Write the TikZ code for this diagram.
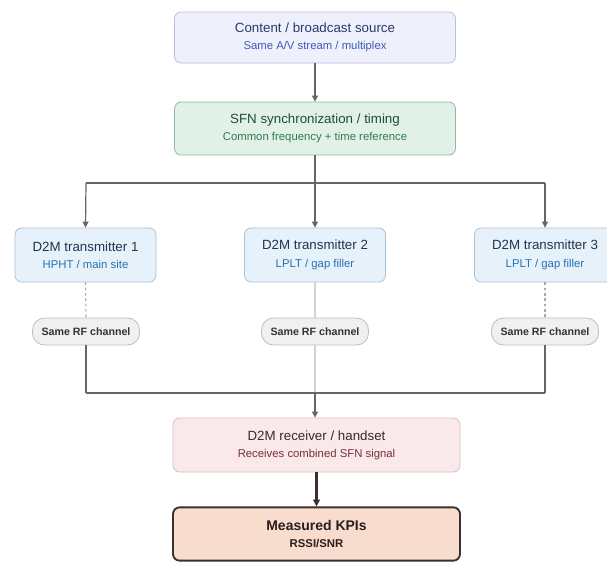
\documentclass[tikz,border=0pt]{standalone}
\usepackage{fontspec}
\setmainfont{Liberation Sans}
\usetikzlibrary{arrows.meta}
\definecolor{cFill}{HTML}{EEF0FB}\definecolor{cDraw}{HTML}{B8BFDD}
\definecolor{cTit}{HTML}{2B3A6B}\definecolor{cSub}{HTML}{3A5BB8}
\definecolor{sFill}{HTML}{E2F1E8}\definecolor{sDraw}{HTML}{8FB9A0}
\definecolor{sTit}{HTML}{1E4D33}\definecolor{sSub}{HTML}{2F7A4E}
\definecolor{tFill}{HTML}{E6F1FA}\definecolor{tDraw}{HTML}{A9C3DA}
\definecolor{tTit}{HTML}{1F3550}\definecolor{tSub}{HTML}{2472B3}
\definecolor{chFill}{HTML}{F0F0EE}\definecolor{chDraw}{HTML}{BDBDBD}
\definecolor{chText}{HTML}{333333}
\definecolor{rFill}{HTML}{F9E9EB}\definecolor{rDraw}{HTML}{D9BFC3}
\definecolor{rTit}{HTML}{3A2A2D}\definecolor{rSub}{HTML}{7A2E35}
\definecolor{kFill}{HTML}{F8DCCD}\definecolor{kDraw}{HTML}{3B2F2F}
\definecolor{kText}{HTML}{2A1E1E}
\definecolor{lineC}{HTML}{666666}
\newcommand{\ttl}[1]{{\fontsize{10}{12}\selectfont #1}}
\newcommand{\sbt}[1]{{\fontsize{8.5}{10}\selectfont #1}}
\begin{document}
\begin{tikzpicture}[x=0.75pt,y=-0.75pt,
  box/.style={rectangle,rounded corners=5pt,align=center,inner sep=2pt,line width=0.6pt},
  cbox/.style={box,fill=cFill,draw=cDraw,minimum width=210.75pt,minimum height=38.25pt},
  sbox/.style={box,fill=sFill,draw=sDraw,minimum width=210.75pt,minimum height=39.75pt},
  tbox/.style={box,fill=tFill,draw=tDraw,minimum width=105.75pt,minimum height=40.5pt},
  chip/.style={rectangle,rounded corners=9pt,fill=chFill,draw=chDraw,line width=0.6pt,
     minimum width=80.25pt,minimum height=20.25pt,inner sep=1pt,
     font=\fontsize{8}{9}\selectfont\bfseries,text=chText},
  rbox/.style={box,fill=rFill,draw=rDraw,minimum width=215.25pt,minimum height=40.5pt},
  kbox/.style={box,fill=kFill,draw=kDraw,line width=1.4pt,minimum width=215.25pt,minimum height=40pt},
  conn/.style={draw=lineC,line width=0.9pt},
  arr/.style={conn,-{Triangle[length=4.5pt,width=4.5pt]}},
  dashline/.style={draw=gray!70,line width=0.8pt,dash pattern=on 2pt off 2pt},
  faint/.style={draw=gray!35,line width=0.8pt}
]
\useasboundingbox[fill=white] (0,0) rectangle (607,562);

\node[cbox] (src) at (315,37.5) {\ttl{\textcolor{cTit}{Content / broadcast source}}\\[1pt]\sbt{\textcolor{cSub}{Same A/V stream / multiplex}}};
\node[sbox] (sfn) at (315,128.5) {\ttl{\textcolor{sTit}{SFN synchronization / timing}}\\[1pt]\sbt{\textcolor{sSub}{Common frequency + time reference}}};

\node[tbox] (t1) at (85.5,255) {\ttl{\textcolor{tTit}{D2M transmitter 1}}\\[1pt]\sbt{\textcolor{tSub}{HPHT / main site}}};
\node[tbox] (t2) at (315,255) {\ttl{\textcolor{tTit}{D2M transmitter 2}}\\[1pt]\sbt{\textcolor{tSub}{LPLT / gap filler}}};
\node[tbox] (t3) at (545,255) {\ttl{\textcolor{tTit}{D2M transmitter 3}}\\[1pt]\sbt{\textcolor{tSub}{LPLT / gap filler}}};

\node[chip] (c1) at (86,331.5) {Same RF channel};
\node[chip] (c2) at (315,331.5) {Same RF channel};
\node[chip] (c3) at (545,331.5) {Same RF channel};

\node[rbox] (rx) at (316.5,445) {\ttl{\textcolor{rTit}{D2M receiver / handset}}\\[1pt]\sbt{\textcolor{rSub}{Receives combined SFN signal}}};
\node[kbox] (kpi) at (316.5,534) {{\fontsize{10.5}{12}\selectfont\bfseries\textcolor{kText}{Measured KPIs}}\\[1pt]{\fontsize{8.5}{10}\selectfont\bfseries\textcolor{kText}{RSSI/SNR}}};

\coordinate (bL) at (86,183);
\coordinate (bR) at (545,183);
\coordinate (dL) at (86,393);
\coordinate (dM) at (315,393);
\coordinate (dR) at (545,393);

% source -> sfn
\draw[arr] (src.south) -- (sfn.north);
% sfn -> transmitters
\draw[conn] (bL) -- (bR);
\draw[arr] (sfn.south) -- (t2.north);
\draw[arr] (bL) -- (t1.north);
\draw[arr] (bR) -- (t3.north);
% transmitters -> chips
\draw[dashline] (t1.south) -- (c1.north);
\draw[faint] (t2.south) -- (c2.north);
\draw[dashline] (t3.south) -- (c3.north);
% chips -> bus
\draw[conn] (c1.south) -- (dL);
\draw[faint] (c2.south) -- (dM);
\draw[conn] (c3.south) -- (dR);
\draw[conn] (dL) -- (dR);
\draw[arr] (dM) -- (dM |- rx.north);
% receiver -> KPI
\draw[draw=kDraw,line width=1.6pt,-{Triangle[length=5pt,width=5pt]}] (rx.south) -- (kpi.north);
\end{tikzpicture}
\end{document}
